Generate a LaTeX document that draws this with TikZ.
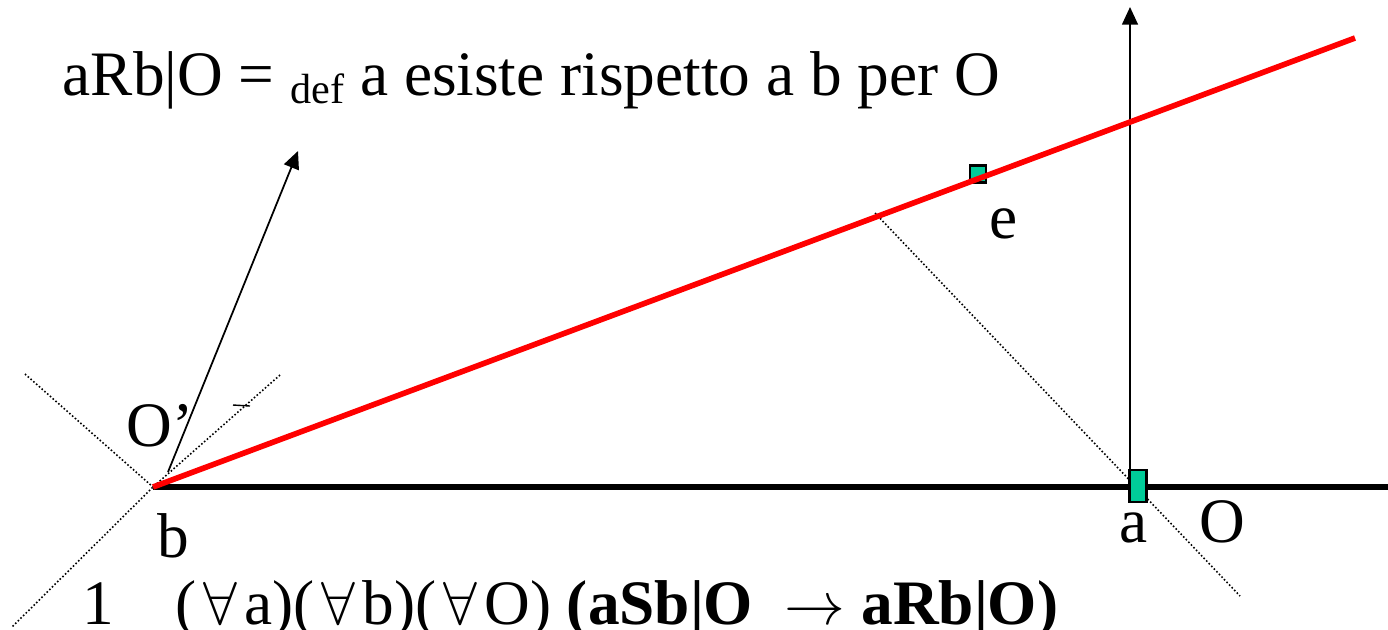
\documentclass[tikz,border=0pt]{standalone}
\usepackage{fontspec}
\setmainfont{Liberation Serif}
\usetikzlibrary{arrows.meta, positioning}
\definecolor{boxgreen}{RGB}{0,204,153}
\newcommand{\fa}{\hspace{2pt}$\forall$\hspace{2pt}}

\begin{document}
\begin{tikzpicture}[
    x=0.01cm, y=-0.01cm,
    font=\fontsize{18}{21}\selectfont,
    >={Triangle[length=5pt, width=4.5pt]},
    lbl/.style={inner sep=0pt, anchor=base west},
    guide/.style={line width=0.45pt, dash pattern=on 0.45pt off 0.6pt},
    greenbox/.style={draw, fill=boxgreen, line width=0.6pt, inner sep=0pt},
    axisline/.style={line width=1.6pt},
]
    \useasboundingbox (0,0) rectangle (1388,629);

    % points of the figure
    \coordinate (b) at (153,487);
    \coordinate (hEnd) at (1392,487);
    \coordinate (rEnd) at (1355,38);
    \coordinate (dA) at (25,374);
    \coordinate (dB) at (280,375);
    \coordinate (dC) at (12,627);
    \coordinate (dFoot) at (875,213);
    \coordinate (dEnd) at (1240,596);
    \coordinate (oStart) at (168,472);
    \coordinate (oTip) at (298,151);
    \coordinate (vStart) at (1130,470);
    \coordinate (vTip) at (1130,7);

    % dotted guides
    \draw[guide] (dA) -- (b);
    \draw[guide] (dB) -- (b) -- (dC);
    \draw[guide] (dFoot) -- (dEnd);

    % axes
    \draw[axisline] (b) -- (hEnd);
    \draw[->, line width=0.5pt] (oStart) -- (oTip);
    \draw[->, line width=0.5pt] (vStart) -- (vTip);
    \draw (233,405) -- (250,406);

    \node[greenbox, minimum width=0.17cm, minimum height=0.32cm] (boxA) at (1138,486) {};
    \node[greenbox, minimum width=0.16cm, minimum height=0.17cm] (boxE) at (978,174) {};
    \draw[axisline, red] (b) -- (rEnd);

    % labels
    \node[lbl] (title) at (62,95) {aRb|O = \raisebox{-2.5pt}{\fontsize{12}{14}\selectfont def} a esiste rispetto a b per O};
    \node[lbl] (labE) at (989,238) {e};
    \node[lbl] (labO1) at (126,446) {O’};
    \node[lbl] (labB) at (157,557) {b};
    \node[lbl] (labA) at (1119,542) {a};
    \node[lbl] (labO) at (1199,542) {O};
    \node[lbl] (num) at (82,624) {1};
    \node[lbl] (rule) at (175,624) {(\fa a)(\fa b)(\fa O) \textbf{(aSb|O} \ $\rightarrow$ \textbf{aRb|O)}};
\end{tikzpicture}
\end{document}
